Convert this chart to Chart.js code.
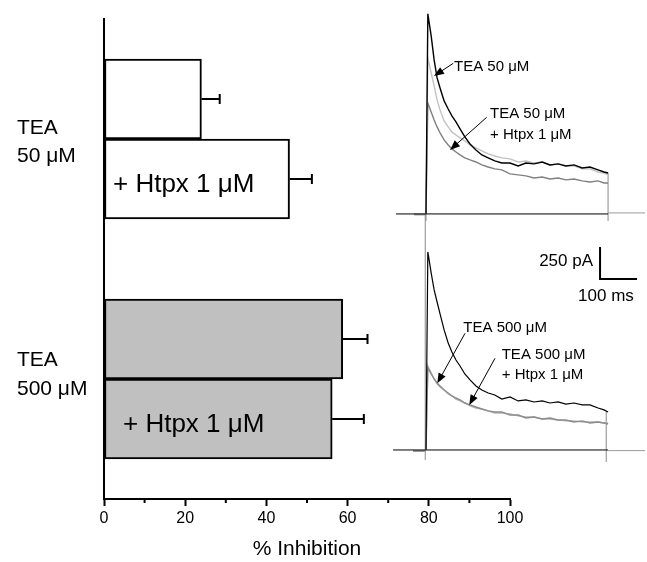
<!DOCTYPE html>
<html><head><meta charset="utf-8">
<script src="https://cdn.jsdelivr.net/npm/chart.js@4.4.0/dist/chart.umd.min.js"></script>
<style>html,body{margin:0;padding:0;background:#fff;}#wrap{width:647px;height:562px;}</style>
</head><body><div id="wrap"><canvas id="c" width="647" height="562"></canvas></div>
<script>
// ---------- bar chart data ----------
const groupLabels = [['TEA', '50 μM'], ['TEA', '500 μM']];
const htpxLabel = '+ Htpx 1 μM';
const inhibitionTEA = [24, 58.8];
const inhibitionHtpx = [45.7, 56.2];
const errorTEA = [4.5, 6.1];
const errorHtpx = [5.5, 7.8];
const xTickStep = 20;
const xMinorTicks = [10, 30, 50, 70, 90];
const xTitle = '% Inhibition';

// ---------- current traces (time in ms, current in pA) ----------
const traceTime = [0, 5, 14, 22, 30, 38, 49, 60, 70, 81, 92, 105, 119, 135, 151, 168, 186, 205, 227, 249, 270, 292, 314, 335, 357, 378, 400, 422, 443, 465, 481, 492];
const topBlack = [0, 1563, 1391, 1203, 1063, 984, 883, 820, 766, 719, 664, 602, 547, 500, 461, 438, 414, 398, 398, 375, 398, 391, 406, 383, 391, 375, 383, 359, 367, 344, 328, 320];
const topLight = [0, 1219, 1102, 1000, 891, 813, 727, 680, 641, 617, 594, 570, 539, 516, 492, 469, 453, 438, 430, 406, 414, 398, 406, 383, 391, 375, 375, 352, 352, 328, 320, 305];
const topDark = [0, 867, 797, 734, 680, 633, 578, 539, 508, 484, 461, 438, 422, 406, 383, 367, 352, 344, 313, 305, 297, 281, 289, 273, 281, 266, 273, 258, 250, 258, 242, 242];
const botBlack = [0, 1547, 1383, 1250, 1156, 1063, 938, 836, 766, 703, 656, 594, 547, 500, 469, 445, 430, 398, 414, 383, 391, 375, 383, 367, 375, 359, 367, 352, 352, 328, 313, 297];
const botMid = [0, 641, 594, 555, 523, 500, 469, 445, 422, 406, 391, 367, 352, 336, 320, 305, 297, 297, 273, 273, 250, 258, 242, 250, 234, 234, 219, 227, 211, 219, 211, 203];
const botLight = [0, 656, 602, 555, 516, 492, 469, 438, 422, 398, 383, 367, 344, 328, 320, 305, 289, 289, 281, 266, 258, 258, 242, 242, 234, 227, 227, 219, 219, 219, 211, 211];

// baselines and stimulus artifacts: [time], [current]
const topBaseT = [-81, 492], topBaseI = [0, 0];
const topTailT = [492, 592], topTailI = [8, 8];
const topPreT = [-32, 0], topPreI = [-4, -4];
const topOnT = [0, 0], topOnI = [-55, 0];
const topOffT = [492, 492], topOffI = [-55, 320];
const botBaseT = [-89, 492], botBaseI = [0, 0];
const botTailT = [492, 592], botTailI = [-5, -5];
const botPreT = [-35, -3], botPreI = [-8, -8];
const botOnT = [-2, -2], botOnI = [-78, 1844];
const botOffT = [487, 487], botOffI = [-94, 297];

// annotation texts
const annTop1 = ['TEA 50 μM'];
const annTop2 = ['TEA 50 μM', '+ Htpx 1 μM'];
const annBot1 = ['TEA 500 μM'];
const annBot2 = ['TEA 500 μM', '+ Htpx 1 μM'];
const scaleBarI = 250, scaleBarT = 100;

// ---------- layout / styles ----------
const FONT = "'Liberation Sans', Arial, Helvetica, sans-serif";
const slot = (g, j) => 3 * g + 1 + j;
const groupTickPos = [1.54, 4.45];
const htpxTextOffsetPx = [9, 19];
const annotations = [
  {panel: 'ty1', lines: annTop1, t: 75.7, i: 1148, from: [73.8, 1177], to: [21.6, 1078], lh: 21},
  {panel: 'ty1', lines: annTop2, t: 173, i: 781, from: [164, 755], to: [64.9, 500], lh: 21},
  {panel: 'ty2', lines: annBot1, t: 100.8, i: 953, from: [105.4, 911], to: [30.5, 521], lh: 20},
  {panel: 'ty2', lines: annBot2, t: 204.6, i: 742, from: [186.5, 716], to: [117, 352], lh: 20}
];
const scaleBarPos = {t: 470.3, i: 1336};

const pts = (T, I) => T.map((t, k) => ({x: t, y: I[k]}));
const trace = (T, I, axis, color, w) => ({
  type: 'line', indexAxis: 'x', xAxisID: 'tx', yAxisID: axis,
  data: pts(T, I), borderColor: color, borderWidth: w, pointRadius: 0,
  fill: false, tension: 0, clip: false
});

const barData = [], barColors = [];
groupLabels.forEach((g, gi) => {
  barData.push({x: inhibitionTEA[gi], y: slot(gi, 0)});
  barData.push({x: inhibitionHtpx[gi], y: slot(gi, 1)});
  const c = gi === 0 ? '#ffffff' : '#c0c0c0';
  barColors.push(c, c);
});

const overlay = {
  id: 'overlay',
  afterDatasetsDraw(chart) {
    const {ctx, scales} = chart;
    const sx = scales.x, sy = scales.y, tx = scales.tx;
    ctx.save();
    ctx.strokeStyle = '#000';
    ctx.fillStyle = '#000';
    ctx.lineWidth = 2;
    groupLabels.forEach((g, gi) => {
      [[inhibitionTEA[gi], errorTEA[gi], 0], [inhibitionHtpx[gi], errorHtpx[gi], 1]].forEach(([v, e, j]) => {
        const yp = sy.getPixelForValue(slot(gi, j));
        const x0 = sx.getPixelForValue(v), x1 = sx.getPixelForValue(v + e);
        ctx.beginPath();
        ctx.moveTo(x0, yp); ctx.lineTo(x1, yp);
        ctx.moveTo(x1, yp - 5); ctx.lineTo(x1, yp + 5);
        ctx.stroke();
      });
      ctx.font = '26px ' + FONT;
      ctx.textAlign = 'left'; ctx.textBaseline = 'middle';
      ctx.fillText(htpxLabel, sx.getPixelForValue(0) + htpxTextOffsetPx[gi], sy.getPixelForValue(slot(gi, 1)) + 6);
    });
    // minor ticks
    const yb = chart.chartArea.bottom;
    xMinorTicks.forEach(v => {
      const xp = sx.getPixelForValue(v);
      ctx.beginPath(); ctx.moveTo(xp, yb); ctx.lineTo(xp, yb + 4); ctx.stroke();
    });
    // trace annotations
    ctx.lineWidth = 1;
    ctx.font = '15px ' + FONT;
    annotations.forEach(a => {
      const py = scales[a.panel];
      const x = tx.getPixelForValue(a.t), y = py.getPixelForValue(a.i);
      a.lines.forEach((l, k) => ctx.fillText(l, x, y + k * a.lh));
      const x0 = tx.getPixelForValue(a.from[0]), y0 = py.getPixelForValue(a.from[1]);
      const x1 = tx.getPixelForValue(a.to[0]), y1 = py.getPixelForValue(a.to[1]);
      const ang = Math.atan2(y1 - y0, x1 - x0);
      ctx.beginPath(); ctx.moveTo(x0, y0); ctx.lineTo(x1 - 8 * Math.cos(ang), y1 - 8 * Math.sin(ang)); ctx.stroke();
      ctx.beginPath();
      ctx.moveTo(x1, y1);
      ctx.lineTo(x1 - 10 * Math.cos(ang) + 4 * Math.sin(ang), y1 - 10 * Math.sin(ang) - 4 * Math.cos(ang));
      ctx.lineTo(x1 - 10 * Math.cos(ang) - 4 * Math.sin(ang), y1 - 10 * Math.sin(ang) + 4 * Math.cos(ang));
      ctx.closePath(); ctx.fill();
    });
    // scale bar
    const p2 = scales.ty2;
    const bx = tx.getPixelForValue(scaleBarPos.t), by = p2.getPixelForValue(scaleBarPos.i);
    const bt = p2.getPixelForValue(scaleBarPos.i + scaleBarI), br = tx.getPixelForValue(scaleBarPos.t + scaleBarT);
    ctx.lineWidth = 2;
    ctx.beginPath(); ctx.moveTo(bx, bt); ctx.lineTo(bx, by); ctx.lineTo(br, by); ctx.stroke();
    ctx.font = '17px ' + FONT;
    ctx.textAlign = 'right';
    ctx.fillText(scaleBarI + ' pA', bx - 7, (bt + by) / 2 - 2);
    ctx.textAlign = 'left';
    ctx.fillText(scaleBarT + ' ms', bx - 22, by + 17);
    ctx.restore();
  }
};

const hidden = (axis, pos, lo, hi) => ({
  type: 'linear', axis: axis, position: pos, display: false, offset: false, bounds: 'data',
  grid: {offset: false},
  afterDataLimits: s => { s.min = lo; s.max = hi; }
});

new Chart(document.getElementById('c'), {
  type: 'bar',
  data: {
    datasets: [
      trace(traceTime, topBlack, 'ty1', '#000000', 1.4),
      trace(traceTime, topLight, 'ty1', '#c2c2c2', 1.4),
      trace(traceTime, topDark, 'ty1', '#808080', 1.4),
      trace(traceTime, botBlack, 'ty2', '#000000', 1.2),
      trace(traceTime, botMid, 'ty2', '#8c8c8c', 1.4),
      trace(traceTime, botLight, 'ty2', '#b5b5b5', 1.4),
      trace(topBaseT, topBaseI, 'ty1', '#000000', 1),
      trace(topTailT, topTailI, 'ty1', '#9a9a9a', 1),
      trace(topPreT, topPreI, 'ty1', '#9a9a9a', 2),
      trace(topOnT, topOnI, 'ty1', '#8a8a8a', 1),
      trace(topOffT, topOffI, 'ty1', '#8a8a8a', 1),
      trace(botBaseT, botBaseI, 'ty2', '#000000', 1),
      trace(botTailT, botTailI, 'ty2', '#9a9a9a', 1),
      trace(botPreT, botPreI, 'ty2', '#9a9a9a', 2),
      trace(botOnT, botOnI, 'ty2', '#8a8a8a', 1),
      trace(botOffT, botOffI, 'ty2', '#8a8a8a', 1),
      {
        type: 'bar', indexAxis: 'y', xAxisID: 'x', yAxisID: 'y', grouped: false,
        data: barData, backgroundColor: barColors, borderColor: '#000', borderWidth: 2,
        borderSkipped: false, barPercentage: 1, categoryPercentage: 1
      }
    ]
  },
  options: {
    responsive: false, animation: false, devicePixelRatio: 1,
    layout: {padding: {left: 17, right: 137, top: 19, bottom: 0}},
    plugins: {legend: {display: false}, tooltip: {enabled: false}},
    scales: {
      x: {
        type: 'linear', axis: 'x', position: 'bottom', min: 0, max: 100, offset: false, bounds: 'data',
        ticks: {stepSize: xTickStep, color: '#000', font: {size: 16, family: FONT}, padding: 3, maxRotation: 0},
        grid: {display: true, offset: false, drawOnChartArea: false, drawTicks: true, tickLength: 7, tickWidth: 2, tickColor: '#000'},
        border: {display: true, color: '#000', width: 2},
        title: {display: true, text: xTitle, color: '#000', font: {size: 21, family: FONT}, padding: {top: 0, bottom: 0}},
        afterFit: s => { s.height = 63; s.paddingLeft = 0; s.paddingRight = 0; }
      },
      y: {
        type: 'linear', axis: 'y', position: 'left', min: 0, max: 6, reverse: true, offset: false, bounds: 'data',
        afterBuildTicks: s => { s.ticks = groupTickPos.map(v => ({value: v})); },
        ticks: {callback: (v, i) => groupLabels[i], crossAlign: 'far', color: '#000', font: {size: 21, family: FONT, lineHeight: 1.38}, padding: 0},
        grid: {display: false, offset: false, drawTicks: false},
        border: {display: true, color: '#000', width: 2},
        afterFit: s => { s.width = 87; s.paddingTop = 0; s.paddingBottom = 0; }
      },
      tx: hidden('x', 'bottom', -870, 227),
      ty1: hidden('y', 'left', -2227, 1523),
      ty2: hidden('y', 'left', -383, 3367)
    }
  },
  plugins: [overlay]
});
</script></body></html>
